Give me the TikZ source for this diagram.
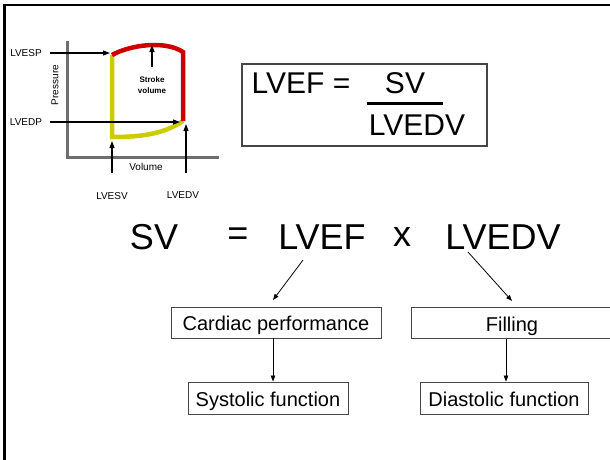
\documentclass[tikz,border=0pt]{standalone}
\usepackage{fontspec}
\setmainfont{Liberation Sans}
\usetikzlibrary{arrows.meta}
\definecolor{loopred}{RGB}{204,0,0}
\definecolor{loopyel}{RGB}{204,204,0}
\definecolor{axgray}{RGB}{110,110,110}
\definecolor{boxgray}{RGB}{70,70,70}
\tikzset{
  fs/.style={font=\fontsize{#1}{#1}\selectfont},
  arr/.style={-{Triangle[length=7pt,width=5pt]}, line width=1.1pt},
  thinarr/.style={-{Triangle[length=6pt,width=4.5pt]}, line width=0.8pt},
  box/.style={draw=boxgray, line width=0.9pt, fs=20, inner sep=0pt, minimum height=31pt, text height=18pt, text depth=2pt},
  lbl/.style={fs=10, inner sep=0pt},
}
\begin{document}
\begin{tikzpicture}[x=1pt,y=-1pt]
\useasboundingbox (0,0) rectangle (610,459);
% frame
\draw[line width=2.5pt] (612,5) -- (4.5,5) -- (4.5,462);
% axes
\draw[axgray, line width=3pt] (67,41) -- (67,157) -- (219,157);
% loop corners
\coordinate (esp) at (112,55);
\coordinate (esv) at (112,137);
\coordinate (edp) at (183,121);
\coordinate (top) at (183,52);
\draw[loopyel, line width=4.5pt] (esp) -- (esv) .. controls (145,137) and (165,133) .. (edp);
\draw[loopred, line width=4.5pt] (esp) .. controls (130,45) and (165,40) .. (top) -- (edp);
% labels
\node[lbl] (lvesp) at (26,53) {LVESP};
\node[lbl] (lvedp) at (26,122) {LVEDP};
\node[lbl, rotate=90] (press) at (55,85) {Pressure};
\node[lbl] (vol) at (146,167) {Volume};
\node[lbl] (lvesv) at (112,196) {LVESV};
\node[lbl] (lvedv) at (183,195) {LVEDV};
\node[font=\bfseries\fontsize{8}{11}\selectfont, align=center, inner sep=0pt] (stroke) at (152,85.5) {Stroke\\volume};
\draw[arr] (lvesp.east) ++(8,0) coordinate (a1) (a1) -- (110,53) coordinate (a1e);
\draw[arr] (lvedp.east) ++(8,0) coordinate (a2) (a2) -- (180,122) coordinate (a2e);
\coordinate (svtail) at (152,67);
\coordinate (svtip) at (152,45);
\draw[arr, line width=1.3pt] (svtail) -- (svtip);
\coordinate (esvtail) at (112,173);
\coordinate (esvtip) at (112,141);
\draw[arr] (esvtail) -- (esvtip);
\coordinate (edvtail) at (186,173);
\coordinate (edvtip) at (186,124);
\draw[arr] (edvtail) -- (edvtip);
% formula box
\node[draw=boxgray, line width=1.2pt, minimum width=245pt, minimum height=82pt, inner sep=0pt] (fbox) at (364.5,105) {};
\node[fs=30, inner sep=0pt] (lvefeq) at (301,83) {LVEF =};
\node[fs=30, inner sep=0pt] (fsv) at (405,83) {SV};
\node[fs=30, inner sep=0pt] (flvedv) at (417,125) {LVEDV};
\coordinate (fl1) at (367,103);
\coordinate (fl2) at (443,103);
\draw[line width=3pt] (fl1) -- (fl2);
% main equation
\node[fs=36, inner sep=0pt] (msv) at (154,237) {SV};
\node[fs=36, inner sep=0pt] (meq) at (238,237) {=};
\node[fs=36, inner sep=0pt] (mlvef) at (322,237) {LVEF};
\node[fs=36, inner sep=0pt] (mx) at (402,237) {x};
\node[fs=36, inner sep=0pt] (mlvedv) at (503,237) {LVEDV};
% boxes
\node[box, minimum width=210pt] (card) at (276,322.5) {Cardiac performance};
\node[box, minimum width=202pt] (fill) at (512,323) {Filling};
\node[box, minimum width=160pt, minimum height=32pt] (sys) at (268,398) {Systolic function};
\node[box, minimum width=168pt, minimum height=32pt] (dia) at (504,398) {Diastolic function};
% connectors
\coordinate (c1) at (303,260);
\coordinate (c1e) at (273,300);
\draw[thinarr] (c1) -- (c1e);
\coordinate (c2) at (468,252);
\coordinate (c2e) at (512,301);
\draw[thinarr] (c2) -- (c2e);
\draw[thinarr] ([xshift=-3pt]card.south) -- ([xshift=-3pt]card.south |- sys.north);
\draw[thinarr] ([xshift=-6pt]fill.south) -- ([xshift=-6pt]fill.south |- dia.north);
\end{tikzpicture}
\end{document}
